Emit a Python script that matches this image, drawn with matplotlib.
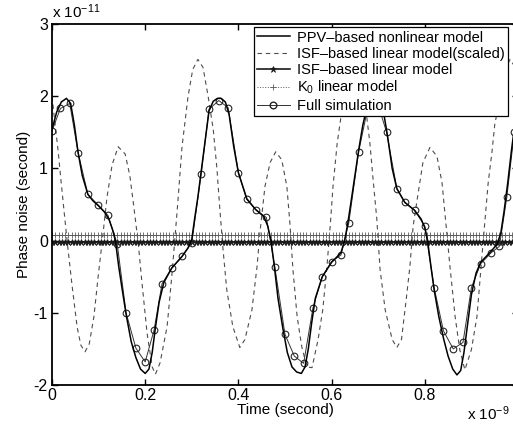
import numpy as np
import matplotlib
matplotlib.use("Agg")
import matplotlib.pyplot as plt
from matplotlib.lines import Line2D

plt.rcParams["font.family"] = ["Liberation Sans", "DejaVu Sans"]
plt.rcParams["mathtext.fontset"] = "custom"
plt.rcParams["mathtext.rm"] = "Liberation Sans"
plt.rcParams["mathtext.default"] = "regular"
plt.rcParams["axes.unicode_minus"] = False

# Time axis in units of 1e-9 s, phase noise in units of 1e-11 s.
# PPV-based nonlinear model
ppv_t = [0.000, 0.010, 0.020, 0.031, 0.040, 0.048, 0.056, 0.065, 0.077, 0.088,
         0.100, 0.112, 0.122, 0.130, 0.136, 0.143, 0.150, 0.159, 0.170, 0.180,
         0.190, 0.200, 0.208, 0.215, 0.222, 0.230, 0.240, 0.257, 0.279, 0.292,
         0.300, 0.306, 0.313, 0.320, 0.328, 0.337, 0.346, 0.355, 0.363, 0.372,
         0.380, 0.390, 0.400, 0.418, 0.437, 0.455, 0.463, 0.470, 0.477, 0.485,
         0.495, 0.505, 0.515, 0.525, 0.535, 0.543, 0.550, 0.557, 0.565, 0.580,
         0.600, 0.620, 0.628, 0.635, 0.642, 0.650, 0.658, 0.667, 0.676, 0.685,
         0.695, 0.705, 0.713, 0.720, 0.730, 0.740, 0.757, 0.778, 0.792, 0.800,
         0.806, 0.813, 0.820, 0.830, 0.840, 0.850, 0.860, 0.869, 0.877, 0.884,
         0.891, 0.900, 0.910, 0.920, 0.942, 0.955, 0.963, 0.970, 0.978, 0.986,
         0.994]
ppv_y = [1.54, 1.78, 1.92, 1.97, 1.90, 1.60, 1.22, 0.90, 0.64, 0.55,
         0.48, 0.40, 0.30, 0.15, 0.00, -0.35, -0.65, -1.02, -1.40, -1.62,
         -1.78, -1.84, -1.78, -1.55, -1.20, -0.85, -0.58, -0.38, -0.22, -0.10,
         0.02, 0.30, 0.60, 0.95, 1.35, 1.80, 1.93, 1.97, 1.97, 1.92,
         1.75, 1.30, 0.94, 0.58, 0.43, 0.33, 0.20, 0.00, -0.35, -0.80,
         -1.20, -1.55, -1.75, -1.82, -1.84, -1.75, -1.50, -1.15, -0.80, -0.50,
         -0.30, -0.17, 0.00, 0.25, 0.55, 0.90, 1.25, 1.60, 1.85, 1.95,
         1.97, 1.90, 1.72, 1.45, 1.00, 0.72, 0.53, 0.42, 0.30, 0.18,
         0.00, -0.35, -0.68, -1.05, -1.35, -1.60, -1.78, -1.86, -1.80, -1.55,
         -1.20, -0.75, -0.45, -0.30, -0.15, -0.05, 0.10, 0.40, 0.80, 1.25,
         1.65]

# ISF-based linear model (scaled)
isfs_t = [0.000, 0.006, 0.013, 0.019, 0.026, 0.034, 0.043, 0.054, 0.062, 0.071,
          0.080, 0.090, 0.099, 0.107, 0.118, 0.129, 0.142, 0.157, 0.167, 0.175,
          0.185, 0.193, 0.204, 0.215, 0.222, 0.232, 0.247, 0.257, 0.264, 0.270,
          0.279, 0.292, 0.302, 0.313, 0.324, 0.335, 0.346, 0.354, 0.360, 0.367,
          0.375, 0.388, 0.403, 0.414, 0.429, 0.440, 0.446, 0.457, 0.468, 0.480,
          0.493, 0.504, 0.511, 0.517, 0.526, 0.536, 0.547, 0.558, 0.571, 0.581,
          0.590, 0.597, 0.603, 0.612, 0.622, 0.635, 0.648, 0.659, 0.670, 0.682,
          0.689, 0.697, 0.704, 0.715, 0.730, 0.740, 0.750, 0.760, 0.768, 0.775,
          0.786, 0.796, 0.811, 0.826, 0.837, 0.843, 0.848, 0.854, 0.865, 0.875,
          0.886, 0.900, 0.912, 0.918, 0.925, 0.936, 0.944, 0.950, 0.963, 0.972,
          0.983, 0.994]
isfs_y = [2.00, 1.65, 1.25, 0.85, 0.40, -0.10, -0.62, -1.20, -1.45, -1.54,
          -1.43, -1.05, -0.50, -0.05, 0.60, 1.05, 1.30, 1.20, 0.90, 0.50,
          -0.03, -0.58, -1.28, -1.75, -1.85, -1.69, -1.19, -0.50, 0.05, 0.53,
          1.30, 2.00, 2.37, 2.51, 2.40, 2.00, 1.54, 0.99, 0.45, -0.12,
          -0.68, -1.19, -1.48, -1.37, -0.96, -0.36, 0.10, 0.75, 1.08, 1.23,
          1.12, 0.75, 0.20, -0.40, -1.05, -1.47, -1.75, -1.76, -1.37, -0.96,
          -0.36, 0.20, 0.75, 1.35, 1.80, 2.30, 2.51, 2.40, 2.00, 1.36,
          0.85, 0.30, -0.40, -0.96, -1.37, -1.48, -1.37, -0.82, -0.36, 0.20,
          0.67, 1.08, 1.29, 1.17, 0.80, 0.39, 0.05, -0.36, -1.05, -1.51,
          -1.79, -1.51, -1.05, -0.58, -0.03, 0.80, 1.22, 1.60, 2.05, 2.37,
          2.51, 2.40]

# Full simulation (sampled points)
full_t = [0.000, 0.018, 0.038, 0.056, 0.077, 0.098, 0.120, 0.140, 0.159, 0.180,
          0.200, 0.219, 0.236, 0.257, 0.279, 0.300, 0.320, 0.337, 0.358, 0.378,
          0.400, 0.418, 0.437, 0.460, 0.478, 0.500, 0.520, 0.540, 0.560, 0.580,
          0.600, 0.620, 0.637, 0.658, 0.678, 0.698, 0.718, 0.740, 0.757, 0.778,
          0.800, 0.820, 0.840, 0.861, 0.882, 0.900, 0.920, 0.942, 0.960, 0.976,
          0.992]
full_y = [1.52, 1.83, 1.90, 1.22, 0.64, 0.50, 0.35, -0.05, -1.00, -1.49,
          -1.68, -1.24, -0.60, -0.38, -0.22, -0.03, 0.92, 1.82, 1.94, 1.84,
          0.94, 0.57, 0.43, 0.32, -0.36, -1.30, -1.60, -1.70, -0.93, -0.50,
          -0.29, -0.20, 0.25, 1.23, 1.85, 1.92, 1.50, 0.72, 0.53, 0.42,
          0.20, -0.65, -1.25, -1.50, -1.41, -0.65, -0.32, -0.17, -0.08, 0.60,
          1.50]

# Flat models: constant level over the whole time span
flat_t = np.arange(0.0, 1.0, 0.007)
isf_level = -0.02
k0_level = 0.08

fig = plt.figure(figsize=(5.13, 4.25), dpi=100)
ax = fig.add_axes([52 / 513, 40 / 425, 466 / 513, 361 / 425])

ax.plot(isfs_t, isfs_y, color="0.3", lw=0.8, ls=(0, (4, 3.5)))
ax.plot(flat_t, np.full_like(flat_t, k0_level), color="0.35", lw=0.7, ls=":",
        marker="+", ms=4, mew=0.6)
ax.plot(flat_t, np.full_like(flat_t, isf_level), color="0.1", lw=1.2,
        marker="*", ms=4.5, mew=0.5)
ax.plot(full_t, full_y, color="0.2", lw=0.7, marker="o", ms=4.8,
        mfc="none", mec="0.15", mew=0.8)
ax.plot(ppv_t, ppv_y, color="black", lw=1.1)

ax.set_xlim(0, 1)
ax.set_ylim(-2, 3)
ax.set_xticks([0, 0.2, 0.4, 0.6, 0.8])
ax.set_xticklabels(["0", "0.2", "0.4", "0.6", "0.8"])
ax.set_yticks([-2, -1, 0, 1, 2, 3])
ax.tick_params(direction="in", top=True, right=True, labelsize=11.5, length=4,
               width=1.0, pad=3)
ax.tick_params(axis="x", pad=2)
for s in ax.spines.values():
    s.set_linewidth(1.3)
ax.set_xlabel("Time (second)", fontsize=11, labelpad=0)
ax.set_ylabel("Phase noise (second)", fontsize=11, labelpad=2)

fig.text(52 / 513, 1 - 12 / 425, "x 10$^{-11}$", fontsize=11, ha="left", va="center")
fig.text(510 / 513, 1 - 414 / 425, "x 10$^{-9}$", fontsize=11, ha="right", va="center")

handles = [
    Line2D([], [], color="black", lw=1.1),
    Line2D([], [], color="0.3", lw=0.8, ls=(0, (4, 3.5))),
    Line2D([], [], color="0.1", lw=1.2, marker="*", ms=4.5, mew=0.5),
    Line2D([], [], color="0.35", lw=0.7, ls=":", marker="+", ms=4, mew=0.6),
    Line2D([], [], color="0.2", lw=0.7, marker="o", ms=4.8, mfc="none", mec="0.15"),
]
labels = ["PPV\u2013based nonlinear model", "ISF\u2013based linear model(scaled)",
          "ISF\u2013based linear model", "K$_0$ linear model", "Full simulation"]
leg = ax.legend(handles, labels, loc="upper right", bbox_to_anchor=(0.979, 0.992),
                borderaxespad=0, fontsize=10.5, fancybox=False, framealpha=1,
                edgecolor="black", handlelength=2.2, handletextpad=0.5,
                labelspacing=0.15, borderpad=0.25)
leg.get_frame().set_linewidth(0.9)

fig.savefig("out.png", dpi=100)
